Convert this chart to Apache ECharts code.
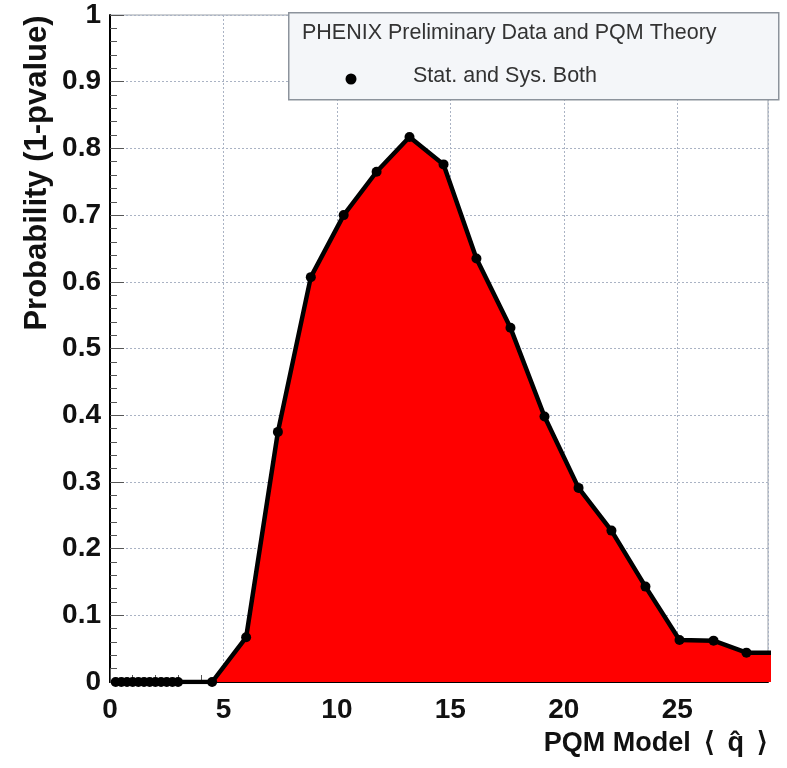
<!DOCTYPE html>
<html>
<head>
<meta charset="utf-8">
<script src="https://cdn.jsdelivr.net/npm/echarts@6/dist/echarts.min.js"></script>
<style>
html,body{margin:0;padding:0;background:#fff;}
#c{width:787px;height:768px;}
</style>
</head>
<body>
<div id="c"></div>
<script>
// q-hat values of the scan points
const qLow = [0.25, 0.5, 0.75, 1.0, 1.25, 1.5, 1.75, 2.0, 2.25, 2.5, 2.75, 3.0];
const probLow = [0, 0, 0, 0, 0, 0, 0, 0, 0, 0, 0, 0];
const qMain = [4.5, 6.0, 7.4, 8.85, 10.3, 11.75, 13.2, 14.7, 16.15, 17.65, 19.15, 20.65, 22.1, 23.6, 25.1, 26.6, 28.05, 29.5];
const probMain = [0, 0.067, 0.375, 0.607, 0.70, 0.765, 0.817, 0.776, 0.635, 0.531, 0.398, 0.291, 0.227, 0.143, 0.063, 0.062, 0.044, 0.044];
const xTicks = [0, 5, 10, 15, 20, 25];
const yTicks = [0, 0.1, 0.2, 0.3, 0.4, 0.5, 0.6, 0.7, 0.8, 0.9, 1];

const legendTitle = 'PHENIX Preliminary Data and PQM Theory';
const seriesName = 'Stat. and Sys. Both';
const xTitle = 'PQM Model \u2009\u27E8\u2009 q\u0302 \u2009\u27E9';
const yTitle = 'Probability (1-pvalue)';

const points = qLow.map((q, i) => [q, probLow[i]]).concat(qMain.map((q, i) => [q, probMain[i]]));

const chart = echarts.init(document.getElementById('c'), null, {renderer: 'canvas'});
const FONT = '"Liberation Sans", Arial, Helvetica, sans-serif';
chart.setOption({
  animation: false,
  backgroundColor: '#ffffff',
  grid: {left: 110, right: 19, top: 15, bottom: 86, show: true, borderColor: '#9aa0a8', borderWidth: 1, backgroundColor: 'transparent'},
  xAxis: {
    type: 'value', min: 0, max: 29, interval: 5,
    axisLine: {show: true, onZero: false, lineStyle: {color: '#000', width: 2}},
    axisTick: {show: true, inside: true, length: 14, lineStyle: {color: '#555', width: 1}},
    minorTick: {show: true, splitNumber: 5, length: 7, lineStyle: {color: '#555', width: 1}},
    splitLine: {show: true, lineStyle: {color: '#aab3c4', type: [2, 2], width: 1}},
    axisLabel: {
      fontFamily: FONT, fontWeight: 'bold', fontSize: 28, color: '#111', margin: 14,
      showMaxLabel: false,
      formatter: v => xTicks.includes(v) ? String(v) : ''
    }
  },
  yAxis: {
    type: 'value', min: 0, max: 1, interval: 0.1,
    axisLine: {show: true, onZero: false, lineStyle: {color: '#000', width: 2}},
    axisTick: {show: true, inside: true, length: 14, lineStyle: {color: '#555', width: 1}},
    minorTick: {show: true, splitNumber: 5, length: 7, lineStyle: {color: '#555', width: 1}},
    splitLine: {show: true, lineStyle: {color: '#aab3c4', type: [2, 2], width: 1}},
    axisLabel: {
      fontFamily: FONT, fontWeight: 'bold', fontSize: 28, color: '#111', margin: 9,
      formatter: v => {
        const t = yTicks.find(y => Math.abs(y - v) < 1e-6);
        return t === undefined ? '' : String(t);
      }
    }
  },
  series: [{
    name: seriesName,
    type: 'line',
    data: points,
    clip: true,
    symbol: 'circle',
    symbolSize: 10,
    showAllSymbol: true,
    itemStyle: {color: '#000'},
    lineStyle: {color: '#000', width: 4.5},
    areaStyle: {color: '#ff0000', opacity: 1, origin: 0},
    z: 3
  }],
  graphic: [
    {type: 'rect', left: 288, top: 12, shape: {width: 490, height: 87},
     style: {fill: '#f4f6f9', stroke: '#8c939c', lineWidth: 1.5}, z: 100},
    {type: 'text', z: 101, x: 302, y: 33,
     style: {text: legendTitle, font: '21.5px ' + FONT, fill: '#333', verticalAlign: 'middle'}},
    {type: 'circle', shape: {cx: 351, cy: 79, r: 5.5}, style: {fill: '#000'}, z: 101},
    {type: 'text', z: 101, x: 413, y: 76,
     style: {text: seriesName, font: '21.5px ' + FONT, fill: '#333', verticalAlign: 'middle'}},
    {type: 'text', z: 101, x: 37, y: 173, rotation: Math.PI / 2,
     style: {text: yTitle, font: 'bold 31px ' + FONT, fill: '#111', align: 'center', verticalAlign: 'middle'}},
    {type: 'text', z: 101, x: 768, y: 744,
     style: {text: xTitle, font: 'bold 27px ' + FONT, fill: '#111', align: 'right', verticalAlign: 'middle'}}
  ]
});
</script>
</body>
</html>
